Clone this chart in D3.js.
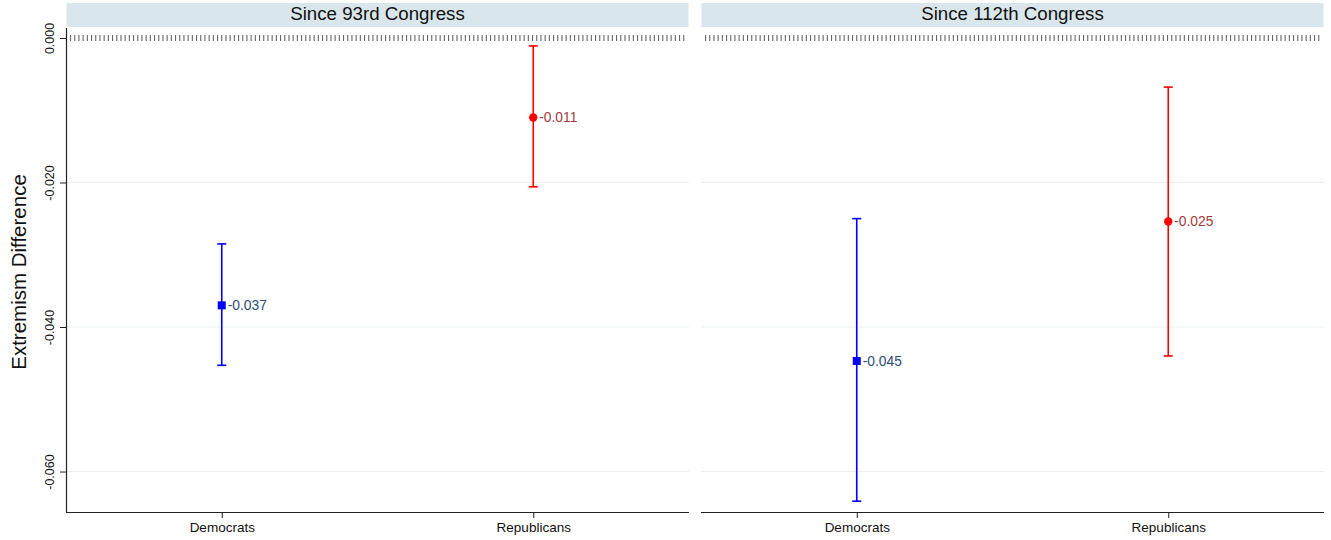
<!DOCTYPE html>
<html><head><meta charset="utf-8">
<script src="https://cdn.jsdelivr.net/npm/d3@7"></script>
<style>body{margin:0;background:#fff;} text{font-family:"Liberation Sans",Arial,sans-serif;}</style>
</head><body>
<svg id="c" width="1331" height="540"></svg>
<script>
const panels = ["Since 93rd Congress", "Since 112th Congress"];
const categories = ["Democrats", "Republicans"];
const estimates = [[-0.037, -0.011], [-0.0447, -0.0254]];
const ciLow = [[-0.0453, -0.0206], [-0.0641, -0.0440]];
const ciHigh = [[-0.0285, -0.0011], [-0.0250, -0.0068]];
const labels = [["-0.037", "-0.011"], ["-0.045", "-0.025"]];
const yTicks = [0, -0.02, -0.04, -0.06];
const yTickLabels = ["0.000", "-0.020", "-0.040", "-0.060"];
const yLabel = "Extremism Difference";

(function(){
const svg = d3.select("#c");
const plotTop = 28, plotBottom = 512;
const y = d3.scaleLinear().domain([0.00138, -0.0656]).range([plotTop, plotBottom]);
const panelX = [[66, 689], [701, 1324]];
const colors = ["#0000ff", "#ff0000"];
const labelColors = ["#2b4e78", "#a33b3b"];

panels.forEach((title, p) => {
  const [x0, x1] = panelX[p];
  const x = d3.scalePoint().domain(categories).range([x0, x1]).padding(0.5);
  const g = svg.append("g");
  g.append("rect").attr("x", x0 + 0.5).attr("y", 3).attr("width", x1 - x0 - 1).attr("height", 24).attr("fill", "#d9e6ec");
  g.append("text").attr("x", (x0 + x1) / 2).attr("y", 19.5).attr("text-anchor", "middle")
    .attr("font-size", 18.7).attr("fill", "#111").text(title);
  yTicks.filter(t => t !== 0).forEach(t => {
    g.append("line").attr("x1", x0).attr("x2", x1).attr("y1", y(t)).attr("y2", y(t))
      .attr("stroke", "#e9eff1").attr("stroke-width", 1);
  });
  g.append("line").attr("x1", x0 + 4).attr("x2", x1 - 2).attr("y1", y(0)).attr("y2", y(0))
    .attr("stroke", "#666").attr("stroke-width", 6).attr("stroke-dasharray", "1.1,3.1");
  const xa = g.append("g").attr("transform", `translate(0,${plotBottom})`)
    .call(d3.axisBottom(x).tickSize(6).tickPadding(4));
  xa.select(".domain").attr("d", `M${x0},0.5H${x1}`).attr("stroke", "#222").attr("stroke-width", 1.2);
  xa.selectAll(".tick line").attr("stroke", "#222");
  xa.selectAll(".tick text").attr("font-size", 13.5).attr("fill", "#111").attr("font-family", "Liberation Sans, Arial, sans-serif");
  if (p === 0) {
    const ya = g.append("g").attr("transform", `translate(${x0},0)`)
      .call(d3.axisLeft(y).tickValues(yTicks).tickFormat((d, i) => yTickLabels[i]).tickSize(6));
    ya.select(".domain").attr("d", `M0.5,${plotTop}V${plotBottom}`).attr("stroke", "#222").attr("stroke-width", 1.2);
    ya.selectAll(".tick line").attr("stroke", "#222");
    ya.selectAll(".tick text").attr("font-size", 12.5).attr("fill", "#111")
      .attr("font-family", "Liberation Sans, Arial, sans-serif")
      .attr("x", 0).attr("y", 0).attr("dy", "0.35em").attr("text-anchor", "middle")
      .attr("transform", "translate(-16,0) rotate(-90)");
  }
  categories.forEach((c, i) => {
    const cx = x(c), col = colors[i];
    g.append("line").attr("x1", cx).attr("x2", cx).attr("y1", y(ciLow[p][i])).attr("y2", y(ciHigh[p][i]))
      .attr("stroke", col).attr("stroke-width", 1.6);
    [ciLow[p][i], ciHigh[p][i]].forEach(v => {
      g.append("line").attr("x1", cx - 4.5).attr("x2", cx + 4.5).attr("y1", y(v)).attr("y2", y(v))
        .attr("stroke", col).attr("stroke-width", 1.6);
    });
    const cy = y(estimates[p][i]);
    if (i === 0) {
      g.append("rect").attr("x", cx - 4).attr("y", cy - 4).attr("width", 8).attr("height", 8).attr("fill", col);
    } else {
      g.append("circle").attr("cx", cx).attr("cy", cy).attr("r", 4.2).attr("fill", col);
    }
    g.append("text").attr("x", cx + 6).attr("y", cy).attr("dy", "0.36em")
      .attr("font-size", 13.8).attr("fill", labelColors[i]).text(labels[p][i]);
  });
});
svg.append("text").attr("transform", `translate(26,${(plotTop + plotBottom) / 2 + 2}) rotate(-90)`)
  .attr("text-anchor", "middle").attr("font-size", 20.5).attr("fill", "#111").text(yLabel);
})();
</script>
</body></html>
